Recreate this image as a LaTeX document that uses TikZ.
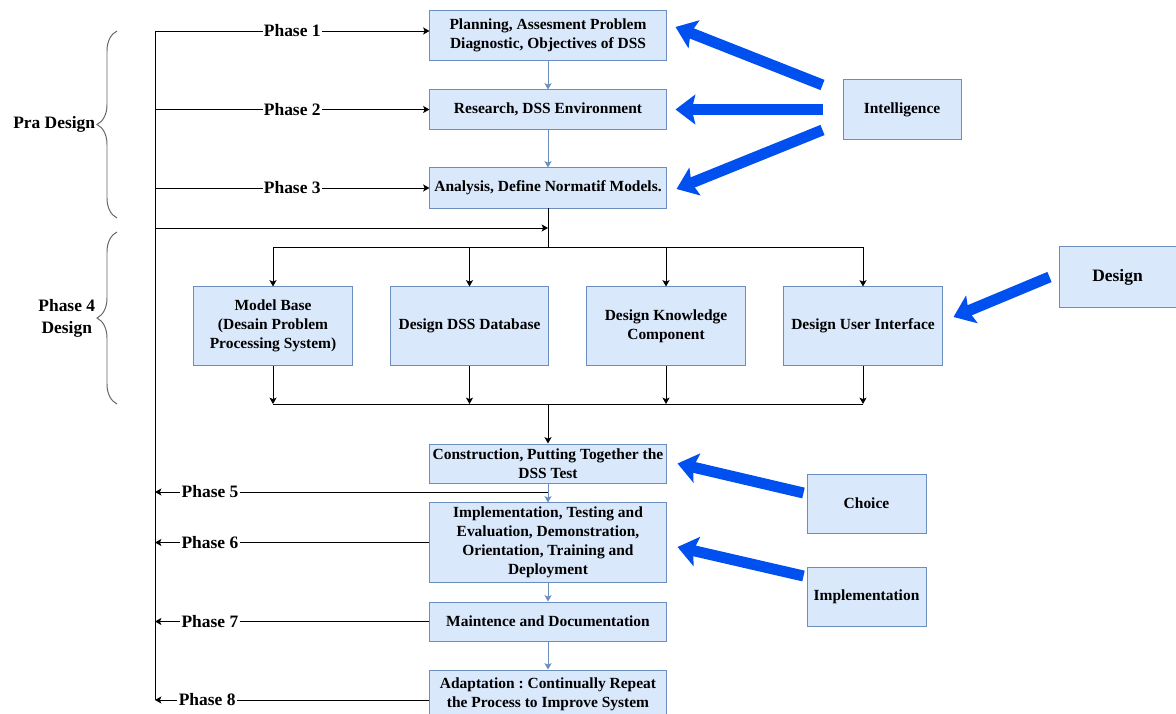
\documentclass[tikz,border=0pt]{standalone}
\usepackage{fontspec}
\setmainfont{Liberation Serif}
\usepackage{xcolor}
\usetikzlibrary{
  arrows.meta,
  positioning,
  calc,
  decorations.pathreplacing
}
\definecolor{paleBlue}{HTML}{DAE8FC}
\definecolor{edgeBlue}{HTML}{6C8EBF}
\definecolor{deepBlue}{HTML}{0050EF}
\definecolor{braceGray}{HTML}{666666}
\newcommand{\boxfont}{\fontsize{11}{13.5}\selectfont\bfseries\frenchspacing}
\newcommand{\tagfont}{\fontsize{12.4}{15.6}\selectfont\bfseries}
\tikzset{
  phasebox/.style={
    draw=edgeBlue,
    fill=paleBlue,
    line width=0.7pt,
    align=center,
    inner sep=1pt,
    font=\boxfont
  },
  mainbox/.style={
    phasebox,
    minimum width=5.9cm
  },
  sidebox/.style={
    phasebox,
    minimum width=2.95cm,
    minimum height=1.475cm
  },
  phasetag/.style={
    fill=white,
    inner sep=1pt,
    font=\tagfont
  },
  bigarrow/.style={
    draw=deepBlue,
    line width=7.8pt,
    -{Stealth[length=14pt,width=21pt,inset=2.5pt]}
  },
  bracket/.style={
    draw=braceGray,
    decorate,
    decoration={brace, amplitude=0.5cm}
  }
}

\begin{document}
\begin{tikzpicture}[
    x=0.025cm, y=-0.025cm,
    >={Stealth[length=4.5pt,width=5pt,inset=1pt]},
    line width=0.7pt
  ]
  \useasboundingbox (0,0) rectangle (1176,714);

  % main column
  \node[mainbox, minimum height=1.225cm] (plan) at (548,35.5)
    {Planning, Assesment Problem\\Diagnostic, Objectives of DSS};
  \node[mainbox, minimum height=0.975cm] (research) at (548,109.5)
    {Research, DSS Environment};
  \node[mainbox, minimum height=1cm] (analysis) at (548,188)
    {Analysis, Define Normatif Models.};
  \node[mainbox, minimum height=0.975cm] (construct) at (548,463.5)
    {Construction, Putting Together the\\DSS Test};
  \node[mainbox, minimum height=1.975cm] (implement) at (548,542.5)
    {Implementation, Testing and\\Evaluation, Demonstration,\\Orientation, Training and\\Deployment};
  \node[mainbox, minimum height=0.975cm] (maintain) at (548,621.5)
    {Maintence and Documentation};
  \node[mainbox, minimum height=1.2cm] (adapt) at (548,694)
    {Adaptation : Continually Repeat\\the Process to Improve System};

  % design components
  \foreach \name/\x/\txt in {
      model/273/{Model Base\\(Desain Problem\\Processing System)},
      database/469.5/{Design DSS Database},
      knowledge/666/{Design Knowledge\\Component},
      ui/863/{Design User Interface}}{
    \node[phasebox, minimum width=3.95cm, minimum height=1.95cm] (\name) at (\x,326) {\txt};
  }

  % stages
  \node[sidebox] (intel) at (902,109.5) {Intelligence};
  \node[sidebox, minimum width=2.925cm, minimum height=1.5cm, font=\tagfont] (designR) at (1117.5,277) {Design};
  \node[sidebox, minimum width=2.975cm] (choice) at (866.5,503.5) {Choice};
  \node[sidebox, minimum width=2.975cm] (implR) at (866.5,596.5) {Implementation};

  \foreach \a/\b in {plan/research, research/analysis, construct/implement,
      implement/maintain, maintain/adapt}{
    \draw[->, edgeBlue] (\a.south) -- (\b.north);
  }

  \coordinate (split) at (548,247);
  \coordinate (merge) at (548,404);
  \draw (analysis.south) -- (split);
  \draw (split -| model) -- (split -| ui);
  \draw (merge -| model) -- (merge -| ui);
  \foreach \name in {model,database,knowledge,ui}{
    \draw[->] (split -| \name) -- (\name.north);
    \draw[->] (\name.south) -- (merge -| \name);
  }
  \draw[->] (merge) -- (construct.north);

  % phase lines
  \coordinate (spinetop) at (155,31);
  \coordinate (spinebot) at (155,700);
  \coordinate (feed) at (548,228);
  \coordinate (ret) at (548,492);
  \draw (spinetop) -- (spinebot);
  \draw[->] (spinetop) -- node[phasetag]{Phase 1} (spinetop -| plan.west);
  \draw[->] (research.west -| spinetop) -- node[phasetag]{Phase 2} (research.west);
  \draw[->] (analysis.west -| spinetop) -- node[phasetag]{Phase 3} (analysis.west);
  \draw[->] (feed -| spinetop) -- (feed);
  \draw[->] (ret) -- node[phasetag, pos=0.86]{Phase 5} (ret -| spinetop);
  \draw[->] (implement.west) -- node[phasetag, pos=0.8]{Phase 6} (implement.west -| spinetop);
  \draw[->] (maintain.west) -- node[phasetag, pos=0.8]{Phase 7} (maintain.west -| spinetop);
  \draw[->] (spinebot -| adapt.west) -- node[phasetag, pos=0.81]{Phase 8} (spinebot);

  % brackets
  \draw[bracket] (117,218) -- (117,31);
  \node[anchor=east, font=\tagfont, inner sep=1pt] (pra) at (97,124.5) {Pra Design};
  \draw[bracket] (117,404) -- (117,232);
  \node[anchor=east, font=\tagfont, align=center, inner sep=1pt] (design) at (97,318) {Phase 4\\Design};

  % stage arrows
  \draw[bigarrow] ($(intel.west)+(-20,-24.5)$) -- ($(plan.east)+(9,-8.5)$);
  \draw[bigarrow] ($(intel.west)+(-20,0)$) -- ($(research.east)+(9,0)$);
  \draw[bigarrow] ($(intel.west)+(-20,20.5)$) -- ($(analysis.east)+(10,1)$);
  \draw[bigarrow] ($(designR.west)+(-9,0)$) -- ($(ui.east)+(11,-9)$);
  \draw[bigarrow] ($(choice.west)+(-3,-10.5)$) -- ($(construct.east)+(11,0)$);
  \draw[bigarrow] ($(implR.west)+(-3,-20.5)$) -- ($(implement.east)+(11,4.5)$);
\end{tikzpicture}
\end{document}
